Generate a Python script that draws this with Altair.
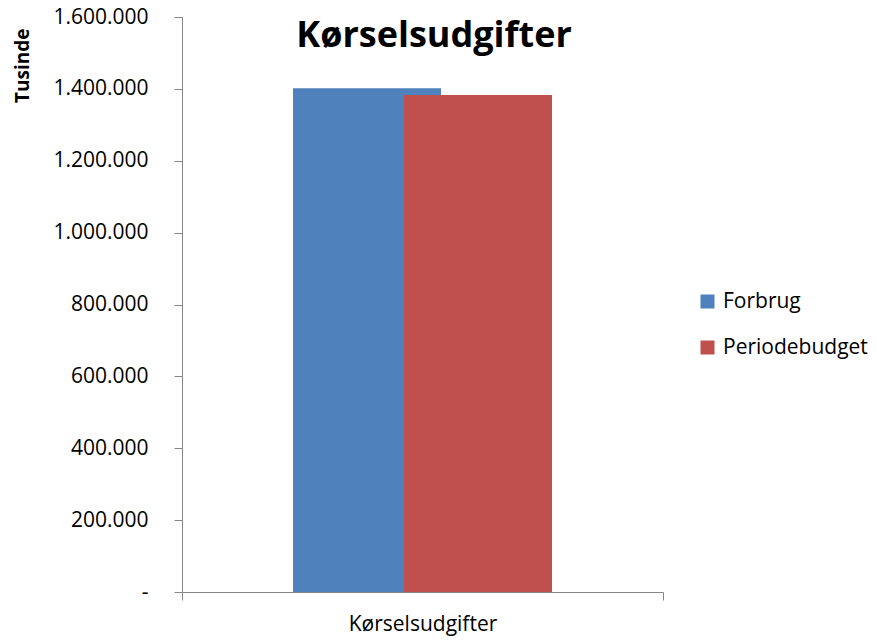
import altair as alt
import pandas as pd

# ---- data ----
title_text = "Kørselsudgifter"
categories = ["Kørselsudgifter", "Kørselsudgifter"]
series = ["Forbrug", "Periodebudget"]
values = [1402000, 1383000]
y_ticks = [0, 200000, 400000, 600000, 800000, 1000000, 1200000, 1400000, 1600000]
colors = ["#4F81BD", "#C0504D"]

df = pd.DataFrame({"kategori": categories, "serie": series, "beloeb": values})

FONT = "Open Sans"
GREY = "#868686"

base = alt.Chart(df)

bars = base.mark_bar(width=148).encode(
    x=alt.X(
        "kategori:N",
        title=None,
        scale=alt.Scale(paddingInner=0, paddingOuter=0.0417),
        axis=None,
    ),
    xOffset=alt.XOffset(
        "serie:N",
        sort=series,
        scale=alt.Scale(paddingInner=0, paddingOuter=1),
    ),
    y=alt.Y(
        "beloeb:Q",
        title="Tusinde",
        scale=alt.Scale(domain=[0, 1600000], nice=False),
        axis=alt.Axis(
            values=y_ticks,
            grid=False,
            tickSize=8,
            tickColor=GREY,
            domainColor=GREY,
            labelFont=FONT,
            labelFontSize=21,
            labelColor="#000000",
            labelPadding=26,
            labelExpr="datum.value == 0 ? '-\u00a0' : replace(format(datum.value, ',d'), regexp(',', 'g'), '.')",
            titleFont=FONT,
            titleFontSize=19,
            titleFontWeight="bold",
            titleColor="#000000",
            titleAngle=270,
            titleAlign="right",
            titleBaseline="middle",
            titleX=-160,
            titleY=11,
        ),
    ),
    color=alt.Color(
        "serie:N",
        scale=alt.Scale(domain=series, range=colors),
        legend=alt.Legend(
            title=None,
            orient="none",
            legendX=515,
            legendY=274,
            padding=0,
            symbolType="square",
            symbolSize=196,
            symbolStrokeWidth=0,
            symbolOpacity=1,
            labelFont=FONT,
            labelFontSize=21,
            labelColor="#000000",
            labelOffset=5,
            rowPadding=24,
        ),
    ),
)

x_axis = base.mark_tick(opacity=0).encode(
    x=alt.X(
        "kategori:N",
        title=None,
        scale=alt.Scale(paddingInner=0, paddingOuter=0),
        axis=alt.Axis(
            labelAngle=0,
            tickBand="extent",
            tickSize=8,
            tickColor=GREY,
            domainColor=GREY,
            labelFont=FONT,
            labelFontSize=21,
            labelColor="#000000",
            labelPadding=13,
        ),
    ),
)

title = alt.Chart(pd.DataFrame({"t": [title_text]})).mark_text(
    font=FONT,
    fontSize=36,
    fontWeight="bold",
    color="#000000",
    align="center",
    baseline="alphabetic",
).encode(
    text="t:N",
    x=alt.value(252),
    y=alt.value(30),
)

chart = alt.layer(x_axis, bars, title).resolve_scale(x="independent").properties(
    width=481,
    height=575,
    autosize=alt.AutoSizeParams(type="none"),
    padding={"left": 174, "top": 9, "right": 205, "bottom": 50},
).configure_view(stroke=None)

chart.save("out.html", embed_options={"renderer": "svg", "actions": False})
